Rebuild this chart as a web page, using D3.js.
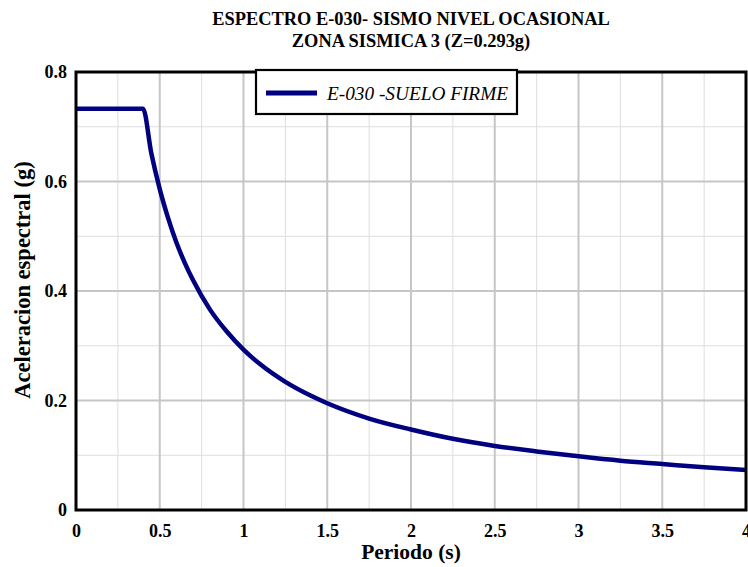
<!DOCTYPE html>
<html>
<head>
<meta charset="utf-8">
<script src="https://cdn.jsdelivr.net/npm/d3@7"></script>
<style>
  html, body { margin: 0; padding: 0; background: #fff; }
  svg { display: block; }
</style>
</head>
<body>
<svg id="chart" width="748" height="567"></svg>
<script>
// Spectrum E-030, zona 3, suelo firme: spectral acceleration (g) vs period (s)
const periods = [0, 0.1, 0.2, 0.3, 0.4, 0.45, 0.5, 0.55, 0.6, 0.65, 0.7, 0.8, 0.9, 1.0, 1.1, 1.25, 1.4, 1.5, 1.75, 2.0, 2.25, 2.5, 2.75, 3.0, 3.25, 3.5, 3.75, 4.0];
const accel   = [0.733, 0.733, 0.733, 0.733, 0.733, 0.651, 0.586, 0.533, 0.488, 0.451, 0.419, 0.366, 0.326, 0.293, 0.266, 0.234, 0.209, 0.195, 0.167, 0.147, 0.130, 0.117, 0.107, 0.098, 0.090, 0.084, 0.078, 0.073];

const xTicks = [0, 0.5, 1, 1.5, 2, 2.5, 3, 3.5, 4];
const xMinorGrid = [0.25, 0.75, 1.25, 1.75, 2.25, 2.75, 3.25, 3.75];
const yTicks = [0, 0.2, 0.4, 0.6, 0.8];
const yMinorGrid = [0.1, 0.3, 0.5, 0.7];

const titleLines = ["ESPECTRO E-030- SISMO NIVEL OCASIONAL", "ZONA SISMICA 3 (Z=0.293g)"];
const xTitle = "Periodo (s)";
const yTitle = "Aceleracion espectral (g)";
const seriesName = "E-030 -SUELO FIRME";

const FONT = "Liberation Serif";
const svg = d3.select("#chart");
const W = 748, H = 567;
const margin = { left: 76, top: 72, right: 2, bottom: 57 };

const x = d3.scaleLinear().domain([0, 4]).range([margin.left, W - margin.right]);
const y = d3.scaleLinear().domain([0, 0.8]).range([H - margin.bottom, margin.top]);

// grid: light lines every 0.25 s / 0.1 g, heavier every 0.5 s / 0.2 g
const grid = svg.append("g");
function vLines(vals, color, w) {
  grid.append("g").selectAll("line").data(vals).join("line")
    .attr("x1", d => x(d)).attr("x2", d => x(d))
    .attr("y1", y(0)).attr("y2", y(0.8))
    .attr("stroke", color).attr("stroke-width", w);
}
function hLines(vals, color, w) {
  grid.append("g").selectAll("line").data(vals).join("line")
    .attr("x1", x(0)).attr("x2", x(4))
    .attr("y1", d => y(d)).attr("y2", d => y(d))
    .attr("stroke", color).attr("stroke-width", w);
}
vLines(xMinorGrid, "#dedede", 1);
hLines(yMinorGrid, "#dedede", 1);
vLines(xTicks.slice(1, -1), "#c6c6c6", 2);
hLines(yTicks.slice(1, -1), "#c6c6c6", 2);

// spectrum curve
const line = d3.line()
  .x((d, i) => x(periods[i]))
  .y(d => y(d))
  .curve(d3.curveMonotoneX);
svg.append("path").datum(accel)
  .attr("d", line)
  .attr("fill", "none")
  .attr("stroke", "#000080")
  .attr("stroke-width", 4.5)
  .attr("stroke-linejoin", "round");

// plot frame
svg.append("rect")
  .attr("x", x(0)).attr("y", y(0.8))
  .attr("width", x(4) - x(0)).attr("height", y(0) - y(0.8))
  .attr("fill", "none").attr("stroke", "#000").attr("stroke-width", 3);

// axes
const xAxis = d3.axisBottom(x).tickValues(xTicks).tickSize(0).tickPadding(14)
  .tickFormat(d => String(d));
const gx = svg.append("g").attr("transform", `translate(0,${y(0)})`).call(xAxis);
gx.select(".domain").remove();
gx.attr("font-family", FONT).attr("font-size", 18).attr("font-weight", "bold");
gx.selectAll("text").attr("fill", "#000");

const yAxis = d3.axisLeft(y).tickValues(yTicks).tickSize(0).tickPadding(9)
  .tickFormat(d => d === 0 ? "0" : d3.format(".1f")(d));
const gy = svg.append("g").attr("transform", `translate(${x(0)},0)`).call(yAxis);
gy.select(".domain").remove();
gy.attr("font-family", FONT).attr("font-size", 18).attr("font-weight", "bold");
gy.selectAll("text").attr("fill", "#000");

// titles
svg.append("g").selectAll("text").data(titleLines).join("text")
  .attr("x", 411).attr("y", (d, i) => 25 + i * 22)
  .attr("text-anchor", "middle")
  .attr("font-family", FONT)
  .attr("font-size", 18.4).attr("font-weight", "bold")
  .text(d => d);

svg.append("text")
  .attr("x", 411).attr("y", 559)
  .attr("text-anchor", "middle")
  .attr("font-family", FONT)
  .attr("font-size", 21.5).attr("font-weight", "bold")
  .text(xTitle);

svg.append("text")
  .attr("transform", "translate(30,280) rotate(-90)")
  .attr("text-anchor", "middle")
  .attr("font-family", FONT)
  .attr("font-size", 22.5).attr("font-weight", "bold")
  .text(yTitle);

// legend
const lg = svg.append("g").attr("transform", "translate(256,70)");
lg.append("rect").attr("x", 0).attr("y", 0).attr("width", 261).attr("height", 44)
  .attr("fill", "#fff").attr("stroke", "#000").attr("stroke-width", 2.2);
lg.append("line").attr("x1", 10).attr("x2", 61).attr("y1", 23).attr("y2", 23)
  .attr("stroke", "#000080").attr("stroke-width", 5);
lg.append("text").attr("x", 71).attr("y", 29.5)
  .attr("font-family", FONT)
  .attr("font-size", 19.3).attr("font-style", "italic")
  .text(seriesName);
</script>
</body>
</html>
